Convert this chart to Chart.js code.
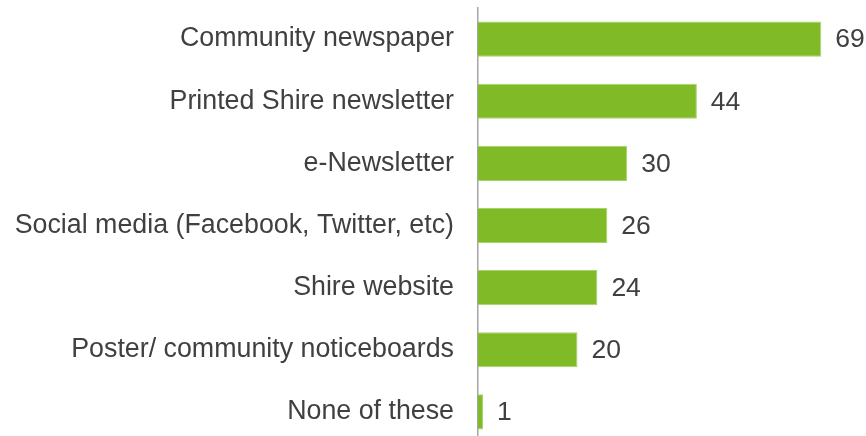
<!DOCTYPE html>
<html>
<head>
<meta charset="utf-8">
<script src="https://cdn.jsdelivr.net/npm/chart.js@4"></script>
<style>
  html, body { margin: 0; padding: 0; background: #fff; overflow: hidden; }
  #wrap { width: 866px; height: 443px; position: relative; }
</style>
</head>
<body>
<div id="wrap"><canvas id="chartChannels"></canvas></div>
<script>
// categories and values
const CATEGORIES = [
  "Community newspaper",
  "Printed Shire newsletter",
  "e-Newsletter",
  "Social media (Facebook, Twitter, etc)",
  "Shire website",
  "Poster/ community noticeboards",
  "None of these",
];
const VALUES = [69, 44, 30, 26, 24, 20, 1];

const BAR_GREEN = "#80BA27";
const TEXT_INK = "#404040";

Chart.defaults.font.family = "'Liberation Sans', Arial, sans-serif";
Chart.defaults.color = TEXT_INK;

// value labels at the end of each bar
const valueLabels = {
  id: "valueLabels",
  afterDatasetsDraw(chart) {
    const ctx = chart.ctx;
    const meta = chart.getDatasetMeta(0);
    ctx.save();
    ctx.font = "26.5px 'Liberation Sans', Arial, sans-serif";
    ctx.fillStyle = TEXT_INK;
    ctx.textAlign = "left";
    ctx.textBaseline = "middle";
    meta.data.forEach((bar, i) => {
      ctx.fillText(String(VALUES[i]), bar.x + 14, bar.y + 1);
    });
    ctx.restore();
  },
};

new Chart(document.getElementById("chartChannels").getContext("2d"), {
  type: "bar",
  data: {
    labels: CATEGORIES,
    datasets: [
      {
        data: VALUES,
        backgroundColor: BAR_GREEN,
        borderColor: "#A6D36A",
        borderWidth: { top: 1, right: 1, bottom: 1, left: 0 },
        borderSkipped: "left",
        barPercentage: 0.565,
        categoryPercentage: 1,
      },
    ],
  },
  options: {
    indexAxis: "y",
    responsive: true,
    maintainAspectRatio: false,
    animation: false,
    layout: { padding: { top: 8, right: 0, bottom: 0, left: 0 } },
    plugins: { legend: { display: false }, tooltip: { enabled: false } },
    scales: {
      x: { display: false, min: 0, max: 78 },
      y: {
        grid: { display: false, drawTicks: false },
        border: { display: true, color: "#A6A6A6", width: 1.5 },
        ticks: { font: { size: 26.8 }, color: TEXT_INK, padding: 24 },
        afterFit(scale) {
          scale.width = 478;
          scale.paddingTop = 0;
          scale.paddingBottom = 0;
        },
      },
    },
  },
  plugins: [valueLabels],
});
</script>
</body>
</html>
